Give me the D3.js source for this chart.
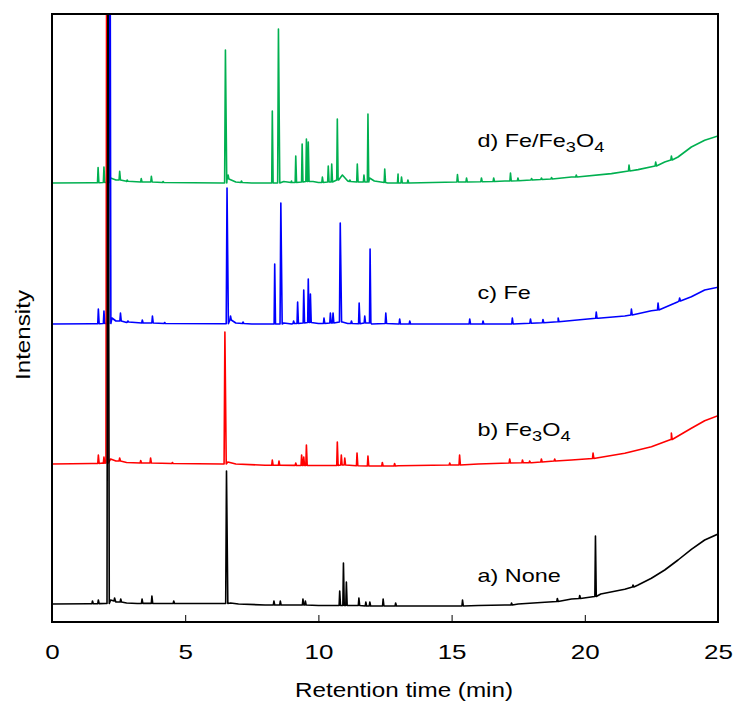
<!DOCTYPE html>
<html><head><meta charset="utf-8">
<script src="https://cdn.jsdelivr.net/npm/d3@7"></script>
<style>body{margin:0;background:#fff}svg{display:block}text{font-family:"Liberation Sans",Arial,sans-serif;fill:#000}</style>
</head><body><div id="chart"></div>
<script>
// ---- data ----
const seriesNames = ["a) None", "b) Fe3O4", "c) Fe", "d) Fe/Fe3O4"];
const seriesColors = ["#000000", "#ff0000", "#0000ff", "#00b050"];
const seriesOffsets = [18, 158, 298, 439];
const xTicks = [0, 5, 10, 15, 20, 25];

// baseline points [time (min), intensity]
const baseA = [[0,0],[1.4,0.3],[2.0,0.5],[2.2,4],[2.4,2],[2.8,1],[3.2,0.5],[6.4,0.5],[6.7,1],[7.0,0],[8,-1],[10,-1.5],[11,-1.5],[12,-2],[14,-2],[16,-1.5],[17,-1],[17.5,0],[18.5,1.7],[19.5,5],[20.3,7.3],[20.6,10],[21.5,14.7],[22,19],[22.5,25.7],[23,34],[23.5,44],[24,54.7],[24.5,64],[25,70]];
const baseB = [[0,0],[1.5,0.5],[1.9,1],[2.2,5],[2.4,3],[2.8,1.5],[3.5,1],[6.4,0],[6.6,2],[6.9,0],[8,-1.3],[10,-1.5],[12,-2],[13,-1.7],[16,0],[18,1.3],[19.5,4],[20.5,6.3],[21.5,10.7],[22.5,17.3],[23.25,24.7],[24,35.7],[24.5,43.3],[25,48.3]];
const baseC = [[0,0],[1.5,0.3],[2.0,0.5],[2.25,6],[2.4,3],[2.8,1.5],[3.5,1],[6.4,0.3],[6.62,4],[6.9,1],[7.5,0],[8.2,0],[8.7,1],[9.0,0],[10,0.5],[10.9,2],[11.1,0.5],[12,0],[13,0],[17,0],[19,2.3],[20.5,5.7],[21.5,8],[22.5,13.3],[23.5,22.3],[24,27.3],[24.5,34],[25,36.7]];
const baseD = [[0,0],[1.5,0.3],[2.0,0.5],[2.2,5],[2.4,3],[2.8,1.5],[3.5,1],[6.4,0],[6.57,4],[6.9,1],[7.5,0],[8.2,0],[8.7,1.5],[9.0,0.5],[9.8,1.5],[10.0,0.5],[10.76,3],[10.9,8],[11.1,2],[11.6,1],[11.92,5],[12.1,2],[12.6,0],[13,0],[17,2],[19.5,6],[21,9.4],[22,13.4],[23,21],[23.5,26],[24,36],[24.5,42.7],[25,47]];

// peaks [time (min), foot intensity, apex intensity]
const peaksA = [[1.52,0.3,3],[1.74,0.4,4],[2.10,0.5,700],[2.35,3,6],[2.58,2,5],[3.38,0.6,5],[3.75,0.6,8],[4.57,0.5,3],[6.55,0.5,133],[8.33,-1,3],[8.57,-1,3],[9.42,-1,5],[9.51,-1,3],[10.80,-1.5,13],[10.94,-1.5,41],[11.05,-1.5,22],[11.52,-1.5,6],[11.78,-2,2],[11.93,-2,2],[12.43,-2,5],[12.9,-2,1],[15.41,-2,4],[17.25,-1,1],[18.97,2.5,5.5],[19.81,5.5,8.5],[20.40,7.5,68],[21.81,17,19]];
const peaksB = [[1.74,0.5,9],[1.95,0.8,7],[2.06,1,700],[2.54,3,6],[3.33,1,3.5],[3.70,1,6],[4.52,0.5,1.5],[6.49,0,132],[8.27,-1.3,4],[8.52,-1.3,3],[9.15,-1.4,1],[9.37,-1.5,9],[9.45,-1.5,7],[9.55,-1.5,19],[10.71,-1.5,22],[10.86,-1,9],[10.99,-1,6],[11.45,-1.8,11],[11.86,-2,8],[12.40,-2,1.5],[12.86,-2,0.5],[14.93,-1,1],[15.30,-1,9],[17.18,1,5],[17.66,1.2,4],[17.93,1.3,3],[18.37,2,5],[18.87,3,5],[20.31,5.5,11],[23.25,24.5,31]];
const peaksC = [[1.74,0.3,15],[1.95,0.5,13],[2.16,0.5,700],[2.57,3,11],[2.85,2,3],[3.39,1,4],[3.77,1,8],[4.23,0.5,1.5],[6.57,0.3,136],[6.70,4,8],[7.17,0.5,2],[8.36,0,60],[8.59,0,121],[9.07,0.5,3],[9.22,0.5,22],[9.45,1,34],[9.62,1.5,45],[9.70,1.5,30],[10.21,0.5,6],[10.45,1,11],[10.55,1,11],[10.82,2,101],[11.24,0.5,3],[11.53,0.3,21],[11.74,1,8],[11.94,1,75],[12.53,0.5,11],[13.05,0,5],[13.43,0,3],[15.68,0,5],[16.18,0,3],[17.28,0,6],[17.96,0.8,5],[18.43,1.3,4.5],[19.0,2.3,6],[20.43,5.7,12],[21.75,9,15],[22.75,14,21],[23.56,23,26]];
const peaksD = [[1.73,0.3,15.4],[1.95,0.5,16],[2.10,0.5,700],[2.54,3,11.7],[2.82,1.8,3],[3.35,1,4.4],[3.73,1,6.7],[4.17,0.5,1.5],[6.51,0,133],[6.61,4,8],[7.11,0.5,2],[8.27,0,72],[8.50,0,154],[8.99,0.5,2],[9.15,0.5,27],[9.39,1,39],[9.55,1.5,44],[9.62,1.5,41],[10.15,0.5,6],[10.37,1,17],[10.50,1,19],[10.71,3,64],[11.18,1.5,3],[11.46,1,19],[11.71,1,8],[11.86,1,69],[12.49,0.5,14],[12.99,0,9],[13.12,0,6],[13.36,0,3],[15.22,1,8.5],[15.56,1,5],[16.12,1.3,5],[16.58,1.5,5],[17.21,2,10],[17.49,2.2,5],[18.0,3,4.5],[18.37,3.5,5],[18.75,4,5.5],[19.68,6,8],[21.66,12,18],[22.66,17,21],[23.25,23,27]];

const baselines = [baseA, baseB, baseC, baseD];
const peaks = [peaksA, peaksB, peaksC, peaksD];

// ---- layout ----
const W = 734, H = 703;
const m = {left: 52, right: 16, top: 14, bottom: 81};
const SX = 1.3; // horizontal text stretch seen in the reference
const x = d3.scaleLinear().domain([0, 25]).range([m.left, W - m.right]);
const y = d3.scaleLinear().domain([0, 608]).range([H - m.bottom, m.top]);

const svg = d3.select("#chart").append("svg").attr("width", W).attr("height", H);
svg.append("defs").append("clipPath").attr("id", "clip")
  .append("rect").attr("x", m.left).attr("y", m.top)
  .attr("width", W - m.left - m.right).attr("height", H - m.top - m.bottom);

function tracePoints(i) {
  const pts = baselines[i].map(d => ({t: d[0], v: d[1]}));
  peaks[i].forEach(p => {
    const solvent = p[2] > 300, big = p[2] > 100;
    const wl = solvent ? 0.035 : big ? 0.03 : 0.022;
    const wr = solvent ? 0.05 : big ? 0.05 : 0.03;
    pts.push({t: p[0] - wl, v: p[1]}, {t: p[0], v: p[2]}, {t: p[0] + wr, v: p[1]});
  });
  pts.sort((a, b) => a.t - b.t);
  return pts;
}

const line = d3.line().x(d => x(d.t));
const g = svg.append("g").attr("clip-path", "url(#clip)");
[3, 2, 1, 0].forEach(i => {
  const off = seriesOffsets[i];
  g.append("path").datum(tracePoints(i))
    .attr("fill", "none").attr("stroke", seriesColors[i])
    .attr("stroke-width", 1.6).attr("stroke-linejoin", "round")
    .attr("d", line.y(d => y(d.v + off)));
});

// axis (ticks pointing inward)
const ax = svg.append("g").attr("transform", `translate(0,${H - m.bottom})`)
  .call(d3.axisBottom(x).tickValues(xTicks).tickFormat(d3.format("d")).tickSize(-7));
ax.select(".domain").remove();
ax.selectAll(".tick line").attr("stroke", "#000").attr("stroke-width", 1);
ax.selectAll(".tick text").remove();
ax.selectAll(".tick").append("text")
  .attr("transform", `translate(0,${659 - (H - m.bottom)}) scale(${SX},1)`)
  .attr("text-anchor", "middle").attr("font-size", 20).attr("fill", "#000")
  .attr("font-family", "'Liberation Sans', Arial, sans-serif")
  .text(d => d3.format("d")(d));

// frame
svg.append("rect").attr("x", m.left).attr("y", m.top)
  .attr("width", W - m.left - m.right).attr("height", H - m.top - m.bottom)
  .attr("fill", "none").attr("stroke", "#000").attr("stroke-width", 2);

// axis titles
svg.append("text").attr("x", 404).attr("y", 697)
  .attr("text-anchor", "middle").attr("font-size", 21)
  .attr("textLength", 218).attr("lengthAdjust", "spacingAndGlyphs")
  .text("Retention time (min)");
svg.append("text").attr("transform", `translate(29.5,335) rotate(-90)`)
  .attr("text-anchor", "middle").attr("font-size", 20)
  .attr("textLength", 90).attr("lengthAdjust", "spacingAndGlyphs").text("Intensity");

// series labels (chemical subscripts)
const labelY = [581.7, 435.7, 299, 146.7];
function addLabel(txt, yy) {
  const t = svg.append("text").attr("transform", `translate(477.5,${yy}) scale(${SX},1)`).attr("font-size", 18);
  const head = txt.slice(0, 3), rest = txt.slice(3);
  t.append("tspan").text(head);
  let lowered = false;
  rest.split(/(\d)/).forEach(p => {
    if (p === "") return;
    if (/^\d$/.test(p)) {
      t.append("tspan").attr("font-size", 14).attr("dy", 5).text(p);
      lowered = true;
    } else {
      const s = t.append("tspan").text(p);
      if (lowered) { s.attr("dy", -5); lowered = false; }
    }
  });
}
seriesNames.forEach((n, i) => addLabel(n, labelY[i]));
</script></body></html>
